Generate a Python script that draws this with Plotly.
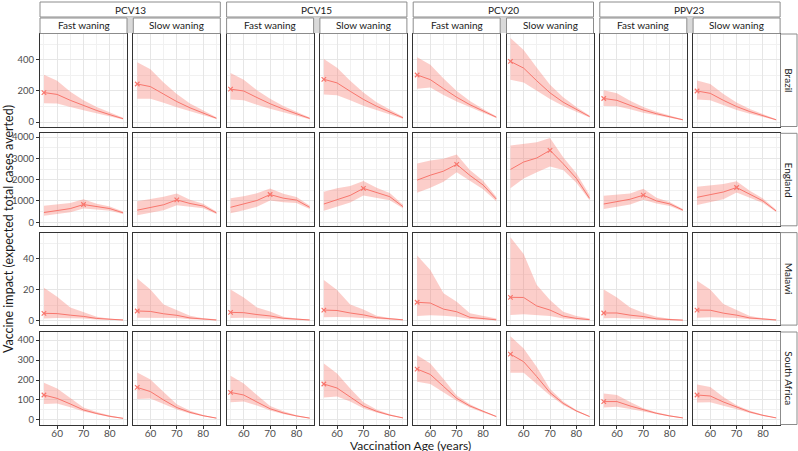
import plotly.graph_objects as go

AGES = [55, 60, 65, 70, 75, 80, 85]
COUNTRIES = ["Brazil", "England", "Malawi", "South Africa"]
VACCINES = ["PCV13", "PCV15", "PCV20", "PPV23"]
WANING = ["Fast waning", "Slow waning"]
X_TICKS = [60, 70, 80]

# panel order: PCV13 fast, PCV13 slow, PCV15 fast, PCV15 slow, PCV20 fast, PCV20 slow, PPV23 fast, PPV23 slow
BRAZIL_MID = [
    [190, 178, 140, 105, 75, 48, 22],
    [245, 228, 180, 132, 92, 58, 25],
    [212, 200, 158, 118, 84, 54, 24],
    [275, 252, 198, 146, 102, 64, 28],
    [303, 273, 215, 160, 112, 70, 32],
    [390, 347, 265, 188, 128, 80, 36],
    [152, 140, 108, 78, 54, 33, 15],
    [200, 185, 140, 100, 68, 40, 15],
]
BRAZIL_LO = [
    [122, 120, 98, 76, 56, 36, 17],
    [150, 150, 124, 95, 68, 44, 20],
    [146, 140, 112, 86, 62, 40, 18],
    [178, 172, 140, 106, 76, 49, 22],
    [214, 222, 175, 132, 94, 60, 27],
    [273, 254, 200, 148, 104, 66, 30],
    [103, 102, 82, 60, 43, 27, 12],
    [146, 140, 108, 78, 54, 32, 12],
]
BRAZIL_HI = [
    [305, 265, 195, 140, 98, 62, 28],
    [385, 340, 255, 180, 120, 74, 31],
    [315, 273, 205, 150, 104, 66, 30],
    [405, 350, 265, 190, 128, 80, 35],
    [417, 368, 280, 200, 136, 84, 38],
    [540, 463, 350, 240, 160, 98, 42],
    [205, 185, 138, 98, 66, 40, 18],
    [267, 245, 180, 126, 84, 49, 19],
]

ENGLAND_MID = [
    [455, 530, 640, 830, 720, 640, 440],
    [565, 680, 820, 1050, 880, 760, 440],
    [700, 860, 1020, 1300, 1130, 1040, 700],
    [855, 1060, 1260, 1590, 1380, 1200, 730],
    [1980, 2210, 2400, 2720, 2200, 1750, 1090],
    [2480, 2830, 3020, 3380, 2750, 2060, 1120],
    [855, 960, 1080, 1270, 1000, 860, 570],
    [1170, 1300, 1420, 1630, 1300, 1000, 525],
]
ENGLAND_LO = [
    [300, 380, 470, 640, 600, 540, 380],
    [330, 450, 560, 800, 720, 650, 390],
    [420, 560, 720, 1020, 940, 900, 620],
    [540, 720, 920, 1250, 1150, 1030, 650],
    [1380, 1620, 1900, 2350, 1950, 1550, 980],
    [1600, 2050, 2350, 2620, 2450, 1850, 1030],
    [625, 720, 830, 1050, 880, 760, 520],
    [810, 950, 1080, 1400, 1150, 900, 480],
]
ENGLAND_HI = [
    [770, 850, 900, 1080, 870, 740, 500],
    [990, 1100, 1200, 1350, 1050, 870, 500],
    [1120, 1220, 1360, 1580, 1340, 1180, 780],
    [1430, 1600, 1700, 1940, 1620, 1370, 820],
    [2760, 2900, 2980, 3180, 2450, 1950, 1200],
    [3610, 3700, 3760, 3960, 3050, 2300, 1280],
    [1240, 1300, 1350, 1570, 1150, 950, 620],
    [1670, 1750, 1800, 1925, 1480, 1110, 580],
]

MALAWI_MID = [
    [4.8, 4.6, 3.6, 2.8, 1.5, 0.8, 0.5],
    [6.3, 6.0, 4.5, 3.5, 1.8, 1.0, 0.5],
    [5.4, 5.2, 4.0, 3.1, 1.6, 0.9, 0.5],
    [6.9, 6.6, 5.0, 3.8, 2.0, 1.1, 0.6],
    [11.9, 11.4, 7.5, 5.8, 2.2, 1.3, 0.6],
    [15.1, 15.0, 9.5, 6.9, 3.0, 1.5, 0.7],
    [5.0, 5.0, 3.6, 2.7, 1.2, 0.7, 0.4],
    [6.9, 6.8, 4.9, 3.6, 1.8, 1.0, 0.5],
]
MALAWI_LO = [
    [1.5, 1.8, 1.6, 1.4, 0.8, 0.5, 0.3],
    [2.0, 2.2, 2.0, 1.8, 1.0, 0.6, 0.3],
    [1.8, 2.0, 1.8, 1.6, 0.9, 0.5, 0.3],
    [2.2, 2.4, 2.2, 1.9, 1.1, 0.6, 0.3],
    [3.0, 3.5, 3.3, 2.5, 1.2, 0.7, 0.4],
    [3.7, 4.2, 3.8, 3.0, 1.4, 0.8, 0.4],
    [1.6, 1.8, 1.6, 1.3, 0.7, 0.4, 0.2],
    [2.0, 2.3, 2.1, 1.8, 1.0, 0.6, 0.3],
]
MALAWI_HI = [
    [21.3, 15.5, 8.5, 5.8, 2.6, 1.3, 0.8],
    [27.3, 20.2, 10.5, 7.0, 3.2, 1.6, 0.9],
    [20.2, 15.0, 8.5, 6.0, 2.6, 1.4, 0.8],
    [26.2, 19.8, 10.5, 7.2, 3.3, 1.7, 0.9],
    [42.0, 32.7, 17.7, 12.3, 4.8, 3.0, 1.5],
    [53.8, 43.0, 23.0, 13.3, 5.8, 3.0, 1.5],
    [20.2, 15.0, 8.5, 5.2, 2.5, 1.3, 0.7],
    [25.8, 20.2, 10.8, 7.0, 3.0, 1.6, 0.9],
]

SAFRICA_MID = [
    [125, 108, 80, 50, 32, 18, 8],
    [163, 142, 100, 62, 38, 21, 9],
    [138, 125, 90, 56, 35, 20, 9],
    [180, 160, 115, 70, 43, 24, 10],
    [255, 228, 168, 108, 70, 42, 17],
    [330, 292, 217, 137, 83, 45, 17],
    [92, 92, 70, 50, 33, 20, 10],
    [125, 120, 90, 63, 40, 23, 10],
]
SAFRICA_LO = [
    [80, 82, 64, 42, 27, 15, 6],
    [105, 108, 82, 52, 32, 18, 7],
    [88, 92, 72, 47, 30, 17, 7],
    [112, 118, 92, 59, 37, 21, 8],
    [192, 180, 138, 96, 62, 37, 15],
    [237, 237, 180, 122, 75, 41, 15],
    [62, 66, 55, 42, 28, 17, 8],
    [87, 88, 72, 54, 35, 20, 9],
]
SAFRICA_HI = [
    [187, 158, 110, 62, 40, 22, 10],
    [238, 203, 140, 78, 46, 25, 11],
    [222, 183, 125, 70, 43, 24, 11],
    [283, 233, 158, 88, 52, 28, 12],
    [325, 283, 205, 122, 78, 46, 20],
    [420, 358, 265, 155, 92, 50, 19],
    [133, 125, 90, 58, 38, 23, 12],
    [178, 165, 115, 74, 46, 26, 12],
]

ROW_MID = [BRAZIL_MID, ENGLAND_MID, MALAWI_MID, SAFRICA_MID]
ROW_LO = [BRAZIL_LO, ENGLAND_LO, MALAWI_LO, SAFRICA_LO]
ROW_HI = [BRAZIL_HI, ENGLAND_HI, MALAWI_HI, SAFRICA_HI]

Y_TICKS = [[0, 200, 400], [0, 1000, 2000, 3000, 4000], [0, 20, 40], [0, 100, 200, 300, 400]]
Y_RANGES = [[-28, 566], [-170, 4180], [-2.8, 56.8], [-23, 441]]
Y_MINOR = [100, 500, 10, 50]

# ---------- layout geometry (pixels) ----------
W, H = 798, 451
COL_LEFT = [40 + i * 93.3 for i in range(8)]
PW = 87
ROW_TOP = [34, 133.3, 232.6, 332]
PH = 92.5

RED = "#F8766D"
FILL = "rgba(248,118,109,0.36)"
FONT = "Lato"

def px_x(p):
    return p / W

def px_y(p):
    return 1 - p / H

fig = go.Figure()
layout = {}

for r in range(4):
    for c in range(8):
        n = r * 8 + c + 1
        xa = "x" if n == 1 else f"x{n}"
        ya = "y" if n == 1 else f"y{n}"
        mid = ROW_MID[r][c]
        lo = ROW_LO[r][c]
        hi = ROW_HI[r][c]
        fig.add_trace(go.Scatter(
            x=AGES + AGES[::-1], y=hi + lo[::-1], fill="toself", fillcolor=FILL,
            line=dict(width=0), mode="lines", hoverinfo="skip", showlegend=False,
            xaxis=xa, yaxis=ya))
        fig.add_trace(go.Scatter(
            x=AGES, y=mid, mode="lines", line=dict(color=RED, width=1),
            showlegend=False, xaxis=xa, yaxis=ya))
        k = max(range(len(mid)), key=lambda i: mid[i])
        fig.add_trace(go.Scatter(
            x=[AGES[k]], y=[mid[k]], mode="markers",
            marker=dict(symbol="x-thin", size=4.5, color=RED, line=dict(color=RED, width=1.2)),
            showlegend=False, xaxis=xa, yaxis=ya))

        xkey = "xaxis" if n == 1 else f"xaxis{n}"
        ykey = "yaxis" if n == 1 else f"yaxis{n}"
        bottom = r == 3
        left = c == 0
        layout[xkey] = dict(
            domain=[px_x(COL_LEFT[c]), px_x(COL_LEFT[c] + PW)],
            anchor=ya, range=[53.5, 86.5], tickvals=X_TICKS,
            showticklabels=bottom, ticks="outside" if bottom else "",
            ticklen=3, tickcolor="#333333", tickwidth=1, ticklabelstandoff=-4,
            tickfont=dict(family=FONT, size=10, color="#4D4D4D"),
            showgrid=True, gridcolor="#E6E6E6", gridwidth=1,
            minor=dict(tickvals=[55, 65, 75, 85], showgrid=True, gridcolor="#F1F1F1", gridwidth=0.6),
            showline=True, mirror=True, linecolor="#333333", linewidth=1,
            zeroline=False, fixedrange=True, automargin=False,
        )
        layout[ykey] = dict(
            domain=[px_y(ROW_TOP[r] + PH), px_y(ROW_TOP[r])],
            anchor=xa, range=Y_RANGES[r], tickvals=Y_TICKS[r],
            showticklabels=left, ticks="outside" if left else "",
            ticklen=3, tickcolor="#333333", tickwidth=1,
            tickfont=dict(family=FONT, size=9.5, color="#4D4D4D"),
            showgrid=True, gridcolor="#E6E6E6", gridwidth=1,
            minor=dict(dtick=Y_MINOR[r], tick0=Y_MINOR[r], showgrid=True, gridcolor="#F1F1F1", gridwidth=0.6),
            showline=True, mirror=True, linecolor="#333333", linewidth=1,
            zeroline=False, fixedrange=True, automargin=False,
        )

shapes = []
annotations = []
STRIP_LINE = "#8C8C8C"
# vaccine strips
for g, vac in enumerate(VACCINES):
    x0 = COL_LEFT[2 * g]
    x1 = COL_LEFT[2 * g + 1] + PW
    shapes.append(dict(type="rect", xref="paper", yref="paper",
                       x0=px_x(x0), x1=px_x(x1), y0=px_y(17), y1=px_y(2),
                       fillcolor="white", line=dict(color=STRIP_LINE, width=1)))
    annotations.append(dict(xref="paper", yref="paper", x=px_x((x0 + x1) / 2), y=px_y(9.5),
                            text=vac, showarrow=False, font=dict(family=FONT, size=10, color="#1A1A1A"),
                            xanchor="center", yanchor="middle"))
    # gap filler between sub strips
    shapes.append(dict(type="rect", xref="paper", yref="paper",
                       x0=px_x(COL_LEFT[2 * g] + PW), x1=px_x(COL_LEFT[2 * g + 1]),
                       y0=px_y(33), y1=px_y(17.5), fillcolor="#D9D9D9", line=dict(width=0)))
# waning strips
for c in range(8):
    x0 = COL_LEFT[c]
    x1 = COL_LEFT[c] + PW
    shapes.append(dict(type="rect", xref="paper", yref="paper",
                       x0=px_x(x0), x1=px_x(x1), y0=px_y(33.5), y1=px_y(18),
                       fillcolor="white", line=dict(color=STRIP_LINE, width=1)))
    annotations.append(dict(xref="paper", yref="paper", x=px_x((x0 + x1) / 2), y=px_y(25.5),
                            text=WANING[c % 2], showarrow=False,
                            font=dict(family=FONT, size=10, color="#1A1A1A"),
                            xanchor="center", yanchor="middle"))
# country strips
for r, ctry in enumerate(COUNTRIES):
    y0 = ROW_TOP[r]
    y1 = ROW_TOP[r] + PH
    shapes.append(dict(type="rect", xref="paper", yref="paper",
                       x0=px_x(780.5), x1=px_x(797), y0=px_y(y1), y1=px_y(y0),
                       fillcolor="white", line=dict(color=STRIP_LINE, width=1)))
    annotations.append(dict(xref="paper", yref="paper", x=px_x(789), y=px_y((y0 + y1) / 2),
                            text=ctry, showarrow=False, textangle=90,
                            font=dict(family=FONT, size=10, color="#1A1A1A"),
                            xanchor="center", yanchor="middle"))

annotations.append(dict(xref="paper", yref="paper", x=px_x(410), y=px_y(445.5),
                        text="Vaccination Age (years)", showarrow=False,
                        font=dict(family=FONT, size=12, color="#1A1A1A"),
                        xanchor="center", yanchor="middle"))
annotations.append(dict(xref="paper", yref="paper", x=px_x(8), y=px_y(229),
                        text="Vaccine impact (expected total cases averted)", showarrow=False,
                        textangle=-90, font=dict(family=FONT, size=12.5, color="#1A1A1A"),
                        xanchor="center", yanchor="middle"))

fig.update_layout(
    width=W, height=H, margin=dict(l=0, r=0, t=0, b=0),
    paper_bgcolor="white", plot_bgcolor="white",
    shapes=shapes, annotations=annotations, showlegend=False,
    **layout,
)

fig.write_html("out.html", config={"displayModeBar": False},
               post_script="document.body.style.margin='0px';document.body.style.overflow='hidden';")
